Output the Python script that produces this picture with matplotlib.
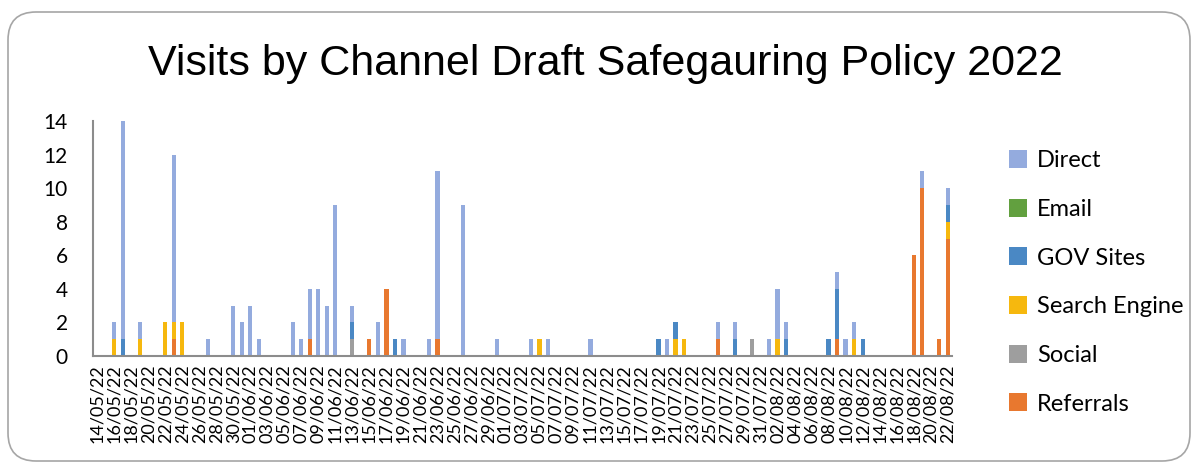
# Visits by channel - stacked daily bars
import pandas as pd
import matplotlib.pyplot as plt
from matplotlib.patches import FancyBboxPatch, Patch
from matplotlib.transforms import IdentityTransform

# Dates (one bar per day)
dates = pd.date_range('2022-05-14', '2022-08-22', freq='D')
date_labels = [d.strftime('%d/%m/%y') for d in dates]

# Daily visits per channel (rows of 10 days)
referrals = [0, 0, 0, 0, 0, 0, 0, 0, 0, 1,
             0, 0, 0, 0, 0, 0, 0, 0, 0, 0,
             0, 0, 0, 0, 0, 1, 0, 0, 0, 0,
             0, 0, 1, 0, 4, 0, 0, 0, 0, 0,
             1, 0, 0, 0, 0, 0, 0, 0, 0, 0,
             0, 0, 0, 0, 0, 0, 0, 0, 0, 0,
             0, 0, 0, 0, 0, 0, 0, 0, 0, 0,
             0, 0, 0, 1, 0, 0, 0, 0, 0, 0,
             0, 0, 0, 0, 0, 0, 0, 1, 0, 0,
             0, 0, 0, 0, 0, 0, 6, 10, 0, 1,
             7]
social = [0, 0, 0, 0, 0, 0, 0, 0, 0, 0,
          0, 0, 0, 0, 0, 0, 0, 0, 0, 0,
          0, 0, 0, 0, 0, 0, 0, 0, 0, 0,
          1, 0, 0, 0, 0, 0, 0, 0, 0, 0,
          0, 0, 0, 0, 0, 0, 0, 0, 0, 0,
          0, 0, 0, 0, 0, 0, 0, 0, 0, 0,
          0, 0, 0, 0, 0, 0, 0, 0, 0, 0,
          0, 0, 0, 0, 0, 0, 0, 1, 0, 0,
          0, 0, 0, 0, 0, 0, 0, 0, 0, 0,
          0, 0, 0, 0, 0, 0, 0, 0, 0, 0,
          0]
search_engine = [0, 0, 1, 0, 0, 1, 0, 0, 2, 1,
                 2, 0, 0, 0, 0, 0, 0, 0, 0, 0,
                 0, 0, 0, 0, 0, 0, 0, 0, 0, 0,
                 0, 0, 0, 0, 0, 0, 0, 0, 0, 0,
                 0, 0, 0, 0, 0, 0, 0, 0, 0, 0,
                 0, 0, 1, 0, 0, 0, 0, 0, 0, 0,
                 0, 0, 0, 0, 0, 0, 0, 0, 1, 1,
                 0, 0, 0, 0, 0, 0, 0, 0, 0, 0,
                 1, 0, 0, 0, 0, 0, 0, 0, 0, 1,
                 0, 0, 0, 0, 0, 0, 0, 0, 0, 0,
                 1]
gov_sites = [0, 0, 0, 1, 0, 0, 0, 0, 0, 0,
             0, 0, 0, 0, 0, 0, 0, 0, 0, 0,
             0, 0, 0, 0, 0, 0, 0, 0, 0, 0,
             1, 0, 0, 0, 0, 1, 0, 0, 0, 0,
             0, 0, 0, 0, 0, 0, 0, 0, 0, 0,
             0, 0, 0, 0, 0, 0, 0, 0, 0, 0,
             0, 0, 0, 0, 0, 0, 1, 0, 1, 0,
             0, 0, 0, 0, 0, 1, 0, 0, 0, 0,
             0, 1, 0, 0, 0, 0, 1, 3, 0, 0,
             1, 0, 0, 0, 0, 0, 0, 0, 0, 0,
             1]
email = [0] * 101
direct = [0, 0, 1, 13, 0, 1, 0, 0, 0, 10,
          0, 0, 0, 1, 0, 0, 3, 2, 3, 1,
          0, 0, 0, 2, 1, 3, 4, 3, 9, 0,
          1, 0, 0, 2, 0, 0, 1, 0, 0, 1,
          10, 0, 0, 9, 0, 0, 0, 1, 0, 0,
          0, 1, 0, 1, 0, 0, 0, 0, 1, 0,
          0, 0, 0, 0, 0, 0, 0, 1, 0, 0,
          0, 0, 0, 1, 0, 1, 0, 0, 0, 1,
          3, 1, 0, 0, 0, 0, 0, 1, 1, 1,
          0, 0, 0, 0, 0, 0, 0, 1, 0, 0,
          1]

# stacking order bottom -> top
series = [('Referrals', referrals, '#E8782F'),
          ('Social', social, '#9E9E9E'),
          ('Search Engine', search_engine, '#F6B80E'),
          ('GOV Sites', gov_sites, '#4A88C4'),
          ('Email', email, '#62A03F'),
          ('Direct', direct, '#94ABDE')]

df = pd.DataFrame({name: vals for name, vals, _ in series}, index=date_labels)

fig = plt.figure(figsize=(11.98, 4.66), dpi=100)
ax = fig.add_axes([0.0776, 0.236, 0.717, 0.504])

x = range(len(df))
bottom = [0] * len(df)
for name, vals, color in series:
    ax.bar(x, df[name], width=0.5, bottom=bottom, color=color, linewidth=0)
    bottom = [b + v for b, v in zip(bottom, df[name])]

ax.set_xlim(-0.5, len(df) - 0.5)
ax.set_ylim(0, 14)
ax.set_yticks(range(0, 15, 2))
ax.set_xticks(list(x)[::2])
ax.set_xticklabels(date_labels[::2], rotation=90, fontsize=13, family='Lato')
for lab in ax.get_yticklabels():
    lab.set_family('Lato')
    lab.set_fontsize(15)
ax.tick_params(axis='both', length=0)
ax.tick_params(axis='y', pad=18)
ax.tick_params(axis='x', pad=6)
for side in ['top', 'right']:
    ax.spines[side].set_visible(False)
for side in ['left', 'bottom']:
    ax.spines[side].set_color('#8C8C8C')
    ax.spines[side].set_linewidth(1.5)

# title
fig.text(0.505, 0.862, 'Visits by Channel Draft Safegauring Policy 2022',
         ha='center', va='center', fontsize=31, family='Liberation Sans')

# legend (reverse of stacking order)
handles = [Patch(facecolor=c, label=n) for n, _, c in series[::-1]]
fig.legend(handles=handles, loc='upper left', bbox_to_anchor=(0.834, 0.698),
           frameon=False, prop={'family': 'Lato', 'size': 17},
           handlelength=0.8, handleheight=0.8, handletextpad=0.4,
           labelspacing=1.16, borderaxespad=0)

# chart area border
frame = FancyBboxPatch((8, 5), 1182, 449, boxstyle='round,pad=0,rounding_size=28',
                       transform=IdentityTransform(), facecolor='none',
                       edgecolor='#A6A6A6', linewidth=1.2)
fig.add_artist(frame)

plt.savefig('out.png', dpi=100)
